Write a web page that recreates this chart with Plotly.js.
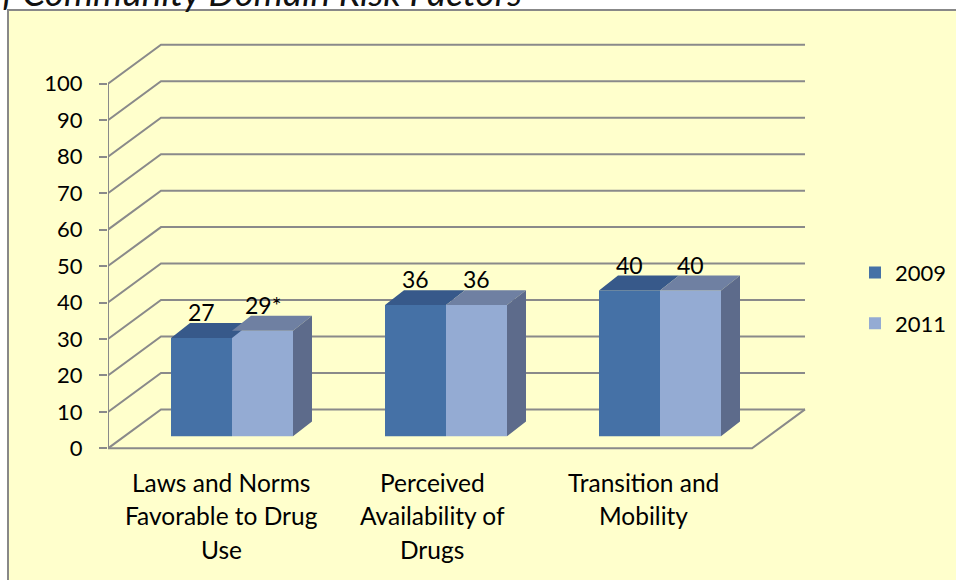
<!DOCTYPE html>
<html>
<head>
<meta charset="utf-8">
<script src="https://cdn.plot.ly/plotly-3.0.1.min.js"></script>
<style>html,body{margin:0;padding:0;background:#fff;}#chart{width:956px;height:580px;}</style>
</head>
<body>
<div id="chart"></div>
<script>
// ---- data ----
const titleText = "of Community Domain Risk Factors";
const categories = ["Laws and Norms<br>Favorable to Drug<br>Use", "Perceived<br>Availability of<br>Drugs", "Transition and<br>Mobility"];
const seriesNames = ["2009", "2011"];
const values2009 = [27, 36, 40];
const values2011 = [29, 36, 40];
const labels2009 = ["27", "36", "40"];
const labels2011 = ["29*", "36", "40"];
const yTicks = [0, 10, 20, 30, 40, 50, 60, 70, 80, 90, 100];

// ---- layout geometry (pixels -> axis units) ----
const W = 956, H = 580;
const M = {l: 108, r: 148, t: 40, b: 127.5};
const plotW = W - M.l - M.r, plotH = H - M.t - M.b;
const PXC = 214;                      // px per category
const yRange = [-1, 112];
const PXV = plotH / (yRange[1] - yRange[0]); // px per value unit
const X0 = -124 / PXC;                // front axis position
const xRange = [X0, X0 + plotW / PXC];
const DX = 53 / PXC, DY = 39 / PXV;   // wall depth
const BASE = 12 / PXV;                // bar base lift (bar depth position)
const BW = 61 / PXC;                  // bar width
const BDX = 19 / PXC, BDY = 15 / PXV; // bar depth
const XFR = 520 / PXC;                // floor front right end
const XBR = XFR + DX;                 // back wall right end

const gridColor = "#8a8a8a";
const c2009 = "#4571a6", c2009top = "#37598a";
const c2011 = "#94abd3", c2011top = "#6f80a2", c2011side = "#5d6b8b";
const FONT = "Lato, 'Open Sans', sans-serif";

// shapes: frame + gridlines (behind everything)
const shapes = [];
shapes.push({type: "rect", xref: "paper", yref: "paper", layer: "below",
  x0: (8 - M.l) / plotW, x1: 3, y0: -2, y1: (plotH + M.t - 10) / plotH,
  fillcolor: "#ffffcc", line: {color: "#888888", width: 2}});
yTicks.forEach(v => {
  shapes.push({type: "path", xref: "x", yref: "y", layer: "below",
    path: `M${X0},${v} L${X0 + DX},${v + DY} L${XBR},${v + DY}`,
    line: {color: gridColor, width: 2}});
});
// floor front and right edges
shapes.push({type: "path", xref: "x", yref: "y", layer: "below",
  path: `M${X0},0 L${XFR},0 L${XBR},${DY}`, line: {color: gridColor, width: 2}});
// front value axis line
shapes.push({type: "line", xref: "x", yref: "y", layer: "below",
  x0: X0, x1: X0, y0: yTicks[0], y1: yTicks[yTicks.length - 1], line: {color: gridColor, width: 2}});

const xs = categories.map((_, i) => i);

function topFaces(vals, x0off) {
  const X = [], Y = [];
  vals.forEach((v, i) => {
    const a = i + x0off, b = a + BW, t = BASE + v;
    X.push(a, b, b + BDX, a + BDX, a, null);
    Y.push(t, t, t + BDY, t + BDY, t, null);
  });
  return {X, Y};
}
function sideFaces(vals, x0off) {
  const X = [], Y = [];
  vals.forEach((v, i) => {
    const b = i + x0off + BW, t = BASE + v;
    X.push(b, b, b + BDX, b + BDX, b, null);
    Y.push(BASE, t, t + BDY, BASE + BDY, BASE, null);
  });
  return {X, Y};
}
const top09 = topFaces(values2009, -BW);
const top11 = topFaces(values2011, 0);
const side11 = sideFaces(values2011, 0);

const traces = [
  {type: "bar", name: seriesNames[0], x: xs, y: values2009, base: BASE, width: BW, offset: -BW,
   marker: {color: c2009, line: {width: 0}}, legendgroup: "a", hoverinfo: "skip"},
  {type: "bar", name: seriesNames[1], x: xs, y: values2011, base: BASE, width: BW, offset: 0,
   marker: {color: c2011, line: {width: 0}}, legendgroup: "b", hoverinfo: "skip"},
  {type: "scatter", mode: "lines", x: top09.X, y: top09.Y, fill: "toself", fillcolor: c2009top,
   line: {width: 0, color: c2009top}, showlegend: false, hoverinfo: "skip"},
  {type: "scatter", mode: "lines", x: top11.X, y: top11.Y, fill: "toself", fillcolor: c2011top,
   line: {width: 0, color: c2011top}, showlegend: false, hoverinfo: "skip"},
  {type: "scatter", mode: "lines", x: side11.X, y: side11.Y, fill: "toself", fillcolor: c2011side,
   line: {width: 0, color: c2011side}, showlegend: false, hoverinfo: "skip"}
];

const annotations = [];
const valFont = {family: FONT, size: 23, color: "#000"};
values2009.forEach((v, i) => annotations.push({xref: "x", yref: "y", x: i - BW / 2, y: BASE + v,
  text: labels2009[i], showarrow: false, yshift: 26, yanchor: "middle", font: valFont}));
values2011.forEach((v, i) => annotations.push({xref: "x", yref: "y", x: i + BW / 2, y: BASE + v,
  text: labels2011[i], showarrow: false, yshift: 26, yanchor: "middle", font: valFont}));
// category labels (one annotation per line, placed on secondary category axis)
const catFont = {family: FONT, size: 24.5, color: "#000"};
categories.forEach((c, i) => {
  c.split("<br>").forEach((line, j) => {
    annotations.push({xref: "x2", yref: "y", x: i, y: 0, text: line, showarrow: false,
      yanchor: "middle", yshift: -34 - 33.5 * j, font: catFont});
  });
});

const CATPX = 211, CAT0 = 221;
const layout = {
  width: W, height: H,
  margin: {l: M.l, r: M.r, t: M.t, b: M.b, pad: 0, autoexpand: false},
  paper_bgcolor: "#ffffff", plot_bgcolor: "rgba(0,0,0,0)",
  title: {text: titleText, x: 522 / W, xanchor: "right", xref: "container",
    y: 1 - 6 / H, yref: "container", yanchor: "bottom",
    font: {family: FONT, size: 37, color: "#111", style: "italic"}},
  barmode: "overlay",
  showlegend: true,
  legend: {x: (855 - M.l) / plotW, xanchor: "left", y: (M.t + plotH - 252) / plotH, yanchor: "top",
    bgcolor: "rgba(0,0,0,0)", traceorder: "grouped", tracegroupgap: 19,
    font: {family: FONT, size: 22, color: "#000"}},
  xaxis: {range: xRange, showgrid: false, zeroline: false, showline: false, showticklabels: false, ticks: "", fixedrange: true},
  xaxis2: {range: [(M.l - CAT0) / CATPX, (M.l + plotW - CAT0) / CATPX], overlaying: "x", visible: false, fixedrange: true},
  yaxis: {range: yRange, tickvals: yTicks, ticktext: yTicks.map(String), showgrid: false, zeroline: false,
    showline: false, ticks: "outside", ticklen: 8, tickwidth: 2, tickcolor: gridColor, ticklabelstandoff: 12,
    tickfont: {family: FONT, size: 22, color: "#000"}, fixedrange: true, automargin: false},
  shapes: shapes,
  annotations: annotations
};

Plotly.newPlot("chart", traces, layout, {displayModeBar: false, staticPlot: true});
</script>
</body>
</html>
